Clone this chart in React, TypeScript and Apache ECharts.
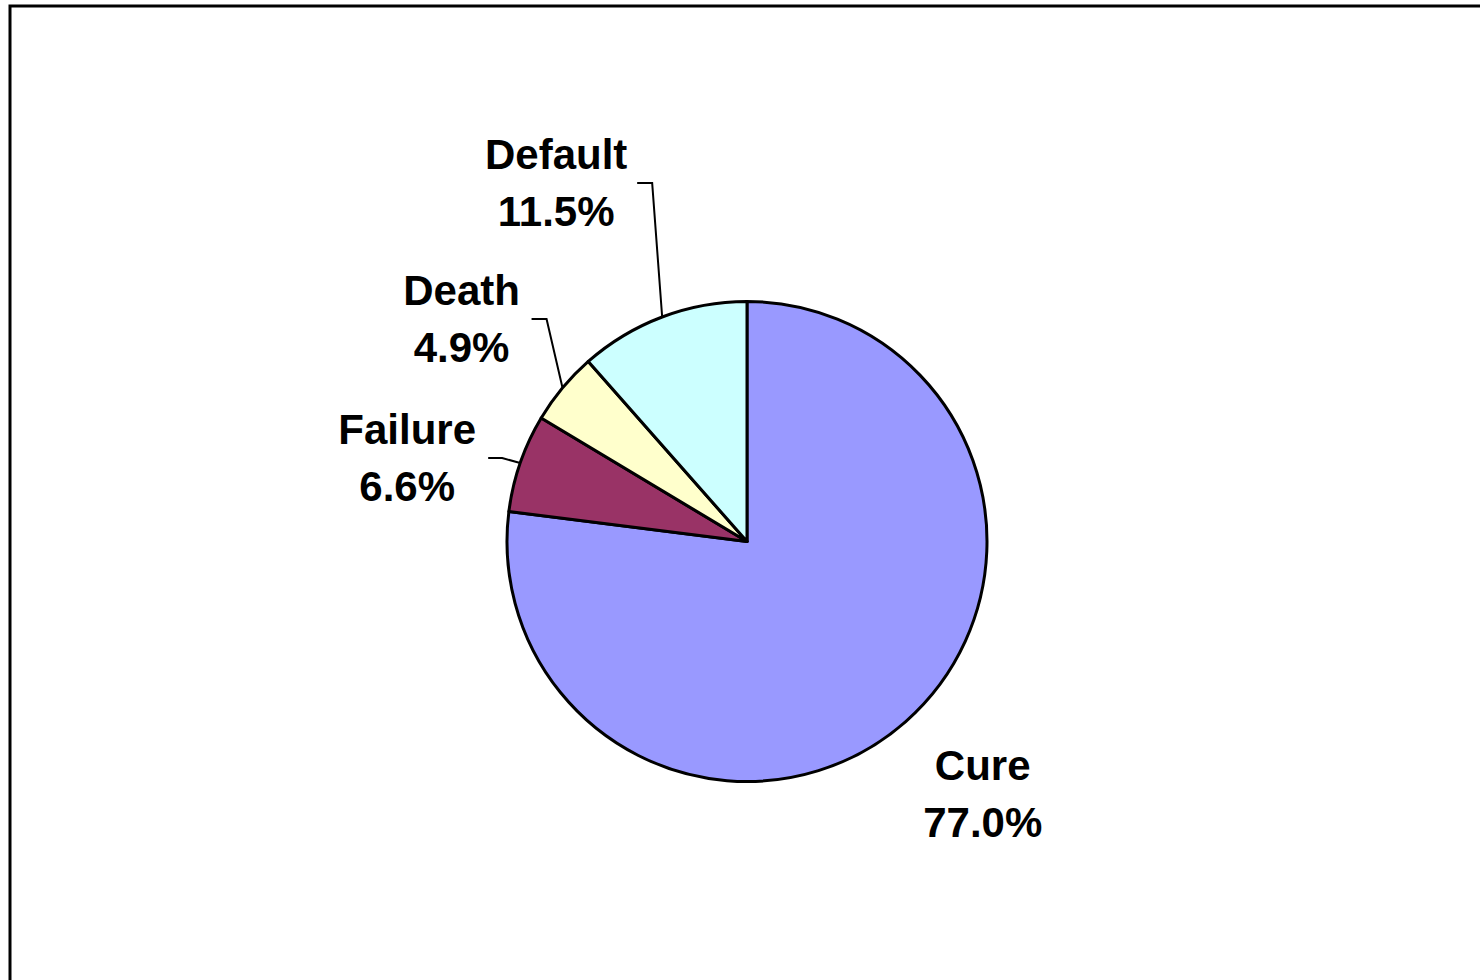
import React, { useEffect, useRef } from "react";
import * as echarts from "echarts";

// Treatment outcome shares (percent)
const categories = ["Cure", "Failure", "Death", "Default"];
const shares = [77.0, 6.6, 4.9, 11.5];
const sliceColors = ["#9999FF", "#993366", "#FFFFCC", "#CCFFFF"];

// Label placement relative to each slice's outer anchor point:
// elbow = bend of the leader line, end = tip of its short horizontal run,
// label = centre of the two-line label. Cure has no leader line.
const labelPlacement = [
  { label: [77, 72], elbow: null, end: null },
  { label: [-113, -5], elbow: [-18, -5], end: [-32, -5] },
  { label: [-101, -69], elbow: [-16, -69], end: [-31, -69] },
  { label: [-106, -134], elbow: [-10, -134], end: [-25, -134] },
];

export default function App() {
  const ref = useRef<HTMLDivElement>(null);

  useEffect(() => {
    if (!ref.current) return;
    const chart = echarts.init(ref.current, null, { renderer: "svg" });

    const cx = 747;
    const cy = 541.5;
    const r = 240;

    // point on the rim at the middle angle of slice i (clockwise from 12 o'clock)
    const rimAnchor = (i: number) => {
      const before = shares.slice(0, i).reduce((a, b) => a + b, 0);
      const total = shares.reduce((a, b) => a + b, 0);
      const mid = ((before + shares[i] / 2) / total) * Math.PI * 2;
      return [cx + Math.sin(mid) * r, cy - Math.cos(mid) * r];
    };

    chart.setOption({
      animation: false,
      backgroundColor: "#ffffff",
      graphic: [
        {
          type: "rect",
          shape: { x: 10, y: 6, width: 1500, height: 1000 },
          style: { fill: "none", stroke: "#000000", lineWidth: 3 },
          silent: true,
        },
      ],
      series: [
        {
          type: "pie",
          center: [cx, cy],
          radius: [0, r],
          startAngle: 90,
          clockwise: true,
          avoidLabelOverlap: false,
          itemStyle: { borderColor: "#000000", borderWidth: 3 },
          emphasis: { disabled: true },
          label: {
            show: true,
            position: "outside",
            formatter: (p: any) => `${p.name}\n${Number(p.value).toFixed(1)}%`,
            fontFamily: "'Liberation Sans', Arial, sans-serif",
            fontWeight: "bold",
            fontSize: 42,
            lineHeight: 57,
            color: "#000000",
            align: "center",
          },
          labelLine: {
            show: true,
            length: 20,
            length2: 15,
            lineStyle: { color: "#000000", width: 2 },
          },
          labelLayout: (p: any) => {
            const i = p.dataIndex;
            const cfg = labelPlacement[i];
            const [ax, ay] = rimAnchor(i);
            const out: any = {
              x: ax + cfg.label[0],
              y: ay + cfg.label[1],
              align: "center",
              verticalAlign: "middle",
            };
            if (cfg.elbow && cfg.end) {
              out.labelLinePoints = [
                [ax, ay],
                [ax + cfg.elbow[0], ay + cfg.elbow[1]],
                [ax + cfg.end[0], ay + cfg.end[1]],
              ];
            }
            return out;
          },
          data: categories.map((name, i) => ({
            name,
            value: shares[i],
            itemStyle: { color: sliceColors[i] },
            labelLine: { show: i !== 0 },
          })),
        },
      ],
    });

    return () => chart.dispose();
  }, []);

  return (
    <div
      ref={ref}
      style={{ position: "fixed", left: 0, top: 0, width: 1480, height: 980 }}
    />
  );
}
